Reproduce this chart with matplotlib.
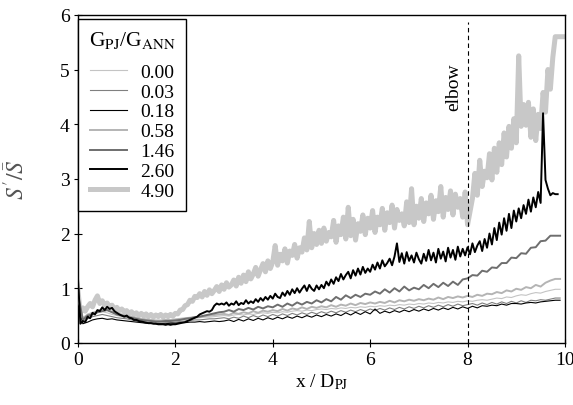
import numpy as np
import matplotlib
matplotlib.use('Agg')
import matplotlib.pyplot as plt

plt.rcParams['font.family'] = 'Liberation Serif'
plt.rcParams['mathtext.fontset'] = 'stix'

# sampled positions x / D_PJ
x_fine = np.arange(0, 10.001, 0.05)     # 201 points, used for 4.90
x_mid = np.arange(0, 9.851, 0.05)       # 198 points, used for 2.60
x_coarse = np.arange(0, 9.901, 0.1)     # 100 points, other ratios

ratio_labels = ['0.00', '0.03', '0.18', '0.58', '1.46', '2.60', '4.90']

s_490 = [
    0.95, 0.55, 0.64, 0.58, 0.66, 0.72, 0.66, 0.78, 0.86, 0.72, 0.77, 0.69, 0.73, 0.65, 0.69, 0.61, 0.65, 0.59, 0.62, 0.57,
    0.59, 0.54, 0.57, 0.52, 0.55, 0.50, 0.54, 0.49, 0.53, 0.48, 0.52, 0.47, 0.51, 0.48, 0.52, 0.47, 0.51, 0.48, 0.52, 0.49,
    0.54, 0.53, 0.60, 0.61, 0.68, 0.70, 0.78, 0.76, 0.85, 0.83, 0.90, 0.84, 0.94, 0.87, 0.97, 0.90, 0.96, 1.03, 0.94, 1.06,
    0.98, 1.10, 1.02, 1.06, 1.15, 1.04, 1.20, 1.09, 1.24, 1.12, 1.30, 1.17, 1.26, 1.38, 1.22, 1.34, 1.45, 1.30, 1.50, 1.36,
    1.48, 1.78, 1.42, 1.62, 1.50, 1.72, 1.46, 1.68, 1.60, 1.80, 1.55, 1.74, 1.66, 1.92, 1.70, 2.22, 1.74, 2.00, 1.80, 2.06,
    1.82, 2.10, 1.86, 2.02, 1.94, 2.24, 1.84, 2.14, 1.98, 2.30, 1.90, 2.48, 1.96, 2.26, 1.88, 2.18, 2.04, 2.34, 1.98, 2.28,
    2.10, 2.42, 2.02, 2.30, 2.16, 2.46, 2.06, 2.38, 2.20, 2.52, 2.10, 2.44, 2.24, 2.36, 2.14, 2.58, 2.20, 2.82, 2.16, 2.50,
    2.28, 2.64, 2.22, 2.56, 2.36, 2.70, 2.26, 2.60, 2.40, 2.86, 2.30, 2.66, 2.44, 2.78, 2.34, 2.72, 2.48, 2.64, 2.30, 2.76,
    2.16, 2.40, 2.64, 3.10, 2.70, 3.34, 2.86, 3.14, 3.02, 3.46, 2.98, 3.56, 3.12, 3.66, 3.26, 3.84, 3.40, 3.96, 3.56, 4.10,
    3.66, 5.25, 3.96, 4.36, 3.98, 4.40, 3.76, 4.28, 3.70, 4.18, 3.92, 4.58, 4.22, 5.00, 4.64, 5.22, 5.60, 5.60, 5.60, 5.60,
    5.60]

s_260 = [
    1.20, 0.35, 0.40, 0.38, 0.48, 0.45, 0.55, 0.52, 0.60, 0.58, 0.65, 0.60, 0.66, 0.62, 0.64, 0.58, 0.55, 0.52, 0.50, 0.48,
    0.50, 0.46, 0.45, 0.42, 0.42, 0.40, 0.39, 0.38, 0.37, 0.36, 0.36, 0.35, 0.35, 0.34, 0.34, 0.34, 0.33, 0.34, 0.33, 0.34,
    0.34, 0.35, 0.36, 0.37, 0.38, 0.40, 0.42, 0.44, 0.46, 0.48, 0.52, 0.54, 0.56, 0.58, 0.57, 0.60, 0.68, 0.72, 0.70, 0.72,
    0.70, 0.74, 0.68, 0.72, 0.70, 0.76, 0.69, 0.73, 0.71, 0.78, 0.72, 0.76, 0.73, 0.80, 0.75, 0.82, 0.77, 0.84, 0.79, 0.86,
    0.81, 0.90, 0.84, 0.82, 0.92, 0.86, 0.95, 0.88, 0.98, 0.91, 1.00, 0.92, 0.99, 1.05, 0.95, 1.06, 0.99, 0.95, 1.05, 0.98,
    1.06, 1.00, 1.12, 1.05, 1.16, 1.08, 1.20, 1.13, 1.26, 1.16, 1.24, 1.30, 1.18, 1.33, 1.23, 1.36, 1.25, 1.39, 1.28, 1.36,
    1.30, 1.43, 1.34, 1.47, 1.36, 1.51, 1.40, 1.46, 1.54, 1.42, 1.58, 1.82, 1.48, 1.64, 1.45, 1.66, 1.50, 1.60, 1.47, 1.65,
    1.53, 1.45, 1.63, 1.50, 1.70, 1.51, 1.65, 1.47, 1.72, 1.54, 1.67, 1.49, 1.74, 1.56, 1.70, 1.52, 1.76, 1.58, 1.72, 1.60,
    1.75, 1.62, 1.82, 1.66, 1.78, 1.86, 1.68, 1.90, 1.74, 2.00, 1.80, 2.10, 1.88, 2.20, 1.98, 2.28, 2.05, 2.36, 2.10, 2.42,
    2.22, 2.46, 2.28, 2.52, 2.36, 2.62, 2.40, 2.66, 2.48, 2.76, 2.56, 4.20, 2.98, 2.82, 2.70, 2.74, 2.72, 2.72]

s_146 = [
    0.90, 0.42, 0.50, 0.52, 0.56, 0.58, 0.60, 0.56, 0.52, 0.50,
    0.48, 0.46, 0.44, 0.42, 0.41, 0.40, 0.39, 0.39, 0.40, 0.40,
    0.41, 0.42, 0.44, 0.45, 0.47, 0.48, 0.50, 0.52, 0.54, 0.56,
    0.57, 0.60, 0.57, 0.62, 0.60, 0.64, 0.61, 0.66, 0.63, 0.67,
    0.65, 0.70, 0.66, 0.72, 0.68, 0.74, 0.70, 0.75, 0.72, 0.78,
    0.74, 0.80, 0.76, 0.84, 0.79, 0.87, 0.82, 0.88, 0.84, 0.90,
    0.88, 0.94, 0.90, 0.98, 0.92, 1.00, 0.94, 1.03, 0.96, 1.01,
    0.98, 1.06, 1.00, 1.08, 1.02, 1.10, 1.04, 1.12, 1.06, 1.16,
    1.18, 1.24, 1.23, 1.32, 1.30, 1.38, 1.37, 1.46, 1.46, 1.56,
    1.55, 1.64, 1.63, 1.74, 1.75, 1.86, 1.87, 1.96, 1.96, 1.96]

s_058 = [
    0.85, 0.45, 0.52, 0.55, 0.58, 0.62, 0.60, 0.57, 0.54, 0.52,
    0.50, 0.48, 0.46, 0.44, 0.43, 0.42, 0.41, 0.41, 0.42, 0.42,
    0.43, 0.44, 0.45, 0.46, 0.47, 0.48, 0.49, 0.50, 0.51, 0.52,
    0.53, 0.51, 0.55, 0.53, 0.56, 0.54, 0.58, 0.55, 0.59, 0.57,
    0.60, 0.58, 0.62, 0.59, 0.63, 0.61, 0.65, 0.62, 0.66, 0.64,
    0.67, 0.65, 0.69, 0.66, 0.70, 0.68, 0.72, 0.69, 0.73, 0.71,
    0.74, 0.72, 0.75, 0.73, 0.77, 0.74, 0.78, 0.76, 0.79, 0.77,
    0.80, 0.78, 0.81, 0.79, 0.83, 0.80, 0.84, 0.82, 0.85, 0.83,
    0.86, 0.84, 0.88, 0.86, 0.90, 0.89, 0.93, 0.91, 0.96, 0.94,
    0.99, 0.97, 1.02, 1.00, 1.06, 1.03, 1.10, 1.14, 1.17, 1.17]

s_000 = [
    0.80, 0.40, 0.48, 0.52, 0.55, 0.57, 0.55, 0.52, 0.50, 0.48,
    0.46, 0.44, 0.43, 0.42, 0.41, 0.40, 0.40, 0.39, 0.40, 0.40,
    0.41, 0.42, 0.43, 0.44, 0.45, 0.46, 0.47, 0.47, 0.48, 0.49,
    0.50, 0.49, 0.51, 0.52, 0.51, 0.53, 0.52, 0.54, 0.55, 0.54,
    0.56, 0.55, 0.57, 0.56, 0.58, 0.59, 0.58, 0.60, 0.59, 0.61,
    0.62, 0.61, 0.63, 0.62, 0.64, 0.63, 0.65, 0.64, 0.66, 0.65,
    0.67, 0.66, 0.68, 0.67, 0.69, 0.68, 0.70, 0.69, 0.71, 0.70,
    0.72, 0.71, 0.73, 0.72, 0.74, 0.73, 0.75, 0.74, 0.76, 0.75,
    0.77, 0.76, 0.78, 0.79, 0.78, 0.80, 0.82, 0.81, 0.84, 0.83,
    0.86, 0.88, 0.87, 0.90, 0.92, 0.91, 0.94, 0.96, 0.98, 0.98]

s_003 = [
    0.75, 0.38, 0.44, 0.48, 0.50, 0.52, 0.50, 0.48, 0.46, 0.45,
    0.44, 0.42, 0.40, 0.39, 0.38, 0.37, 0.37, 0.36, 0.37, 0.37,
    0.38, 0.39, 0.40, 0.41, 0.42, 0.42, 0.43, 0.44, 0.44, 0.45,
    0.46, 0.44, 0.47, 0.45, 0.49, 0.46, 0.50, 0.47, 0.51, 0.48,
    0.52, 0.49, 0.53, 0.50, 0.54, 0.51, 0.55, 0.52, 0.56, 0.53,
    0.57, 0.54, 0.58, 0.55, 0.59, 0.56, 0.60, 0.57, 0.61, 0.58,
    0.62, 0.59, 0.63, 0.60, 0.64, 0.61, 0.65, 0.62, 0.66, 0.63,
    0.67, 0.64, 0.68, 0.65, 0.69, 0.66, 0.70, 0.67, 0.71, 0.68,
    0.70, 0.72, 0.69, 0.73, 0.70, 0.74, 0.71, 0.75, 0.72, 0.76,
    0.73, 0.77, 0.74, 0.78, 0.77, 0.79, 0.78, 0.80, 0.82, 0.82]

s_018 = [
    0.70, 0.35, 0.38, 0.42, 0.44, 0.45, 0.43, 0.44, 0.42, 0.41,
    0.40, 0.39, 0.38, 0.37, 0.36, 0.36, 0.35, 0.35, 0.35, 0.36,
    0.36, 0.37, 0.37, 0.38, 0.38, 0.39, 0.38, 0.39, 0.40, 0.39,
    0.40, 0.42, 0.39, 0.43, 0.40, 0.44, 0.41, 0.45, 0.42, 0.46,
    0.43, 0.47, 0.44, 0.48, 0.45, 0.49, 0.46, 0.50, 0.47, 0.51,
    0.48, 0.52, 0.49, 0.53, 0.50, 0.55, 0.51, 0.56, 0.52, 0.57,
    0.53, 0.62, 0.54, 0.58, 0.55, 0.59, 0.56, 0.60, 0.57, 0.61,
    0.58, 0.62, 0.59, 0.63, 0.60, 0.64, 0.61, 0.65, 0.62, 0.66,
    0.63, 0.67, 0.64, 0.68, 0.67, 0.69, 0.68, 0.71, 0.69, 0.72,
    0.72, 0.71, 0.73, 0.74, 0.73, 0.75, 0.76, 0.77, 0.78, 0.78]

fig = plt.figure(figsize=(5.73, 4.06), dpi=100)
ax = fig.add_axes([0.136, 0.153, 0.850, 0.808])

# thick light-grey curve first so the darker lines sit on top
ax.plot(x_fine, s_490, color='#c8c8c8', lw=3.6, zorder=2, label='4.90')
ax.plot(x_coarse, s_000, color='#c4c4c4', lw=0.8, zorder=3, label='0.00')
ax.plot(x_coarse, s_003, color='#808080', lw=0.8, zorder=3, label='0.03')
ax.plot(x_coarse, s_018, color='black', lw=0.8, zorder=3, label='0.18')
ax.plot(x_coarse, s_058, color='#b4b4b4', lw=1.4, zorder=3, label='0.58')
ax.plot(x_coarse, s_146, color='#6e6e6e', lw=1.4, zorder=3, label='1.46')
ax.plot(x_mid, s_260, color='black', lw=1.4, zorder=4, label='2.60')

ax.plot([8, 8], [0, 5.87], color='black', lw=0.8, dashes=(4, 3), zorder=5)
ax.text(7.9, 4.7, 'elbow', rotation=90, ha='right', va='center', fontsize=14)

ax.set_xlim(0, 10)
ax.set_ylim(0, 6)
ax.set_xticks([0, 2, 4, 6, 8, 10])
ax.set_yticks([0, 1, 2, 3, 4, 5, 6])
ax.tick_params(direction='inout', length=6, width=0.8, labelsize=14, pad=3)
for sp in ax.spines.values():
    sp.set_linewidth(1.0)

ax.set_xlabel(r'x / D$_{\mathrm{PJ}}$', fontsize=14, labelpad=2)
ax.set_ylabel(r"$S'/\bar{S}$", fontsize=17, color='#555555', labelpad=22)

handles, labels = ax.get_legend_handles_labels()
order = [labels.index(l) for l in ratio_labels]
leg = ax.legend([handles[i] for i in order], [labels[i] for i in order],
                title=r'G$_{\mathrm{PJ}}$/G$_{\mathrm{ANN}}$', loc='upper left',
                bbox_to_anchor=(0.0, 0.988), borderaxespad=0.0,
                fontsize=14, title_fontsize=15.5,
                handlelength=1.9, handletextpad=0.7, labelspacing=0.12,
                borderpad=0.55, fancybox=False, framealpha=1, edgecolor='black')
leg.get_frame().set_linewidth(1.0)
leg._legend_box.sep = 9

fig.savefig('out.png', dpi=100)
